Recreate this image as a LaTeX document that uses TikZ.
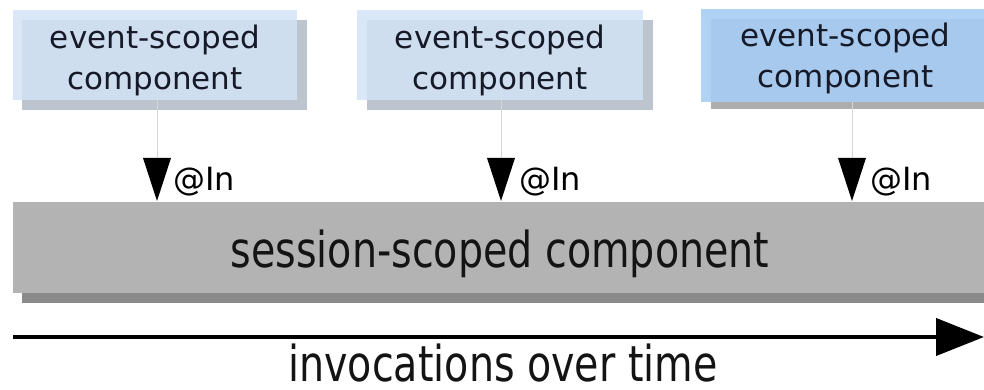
\documentclass[tikz,border=0pt]{standalone}
\usepackage{fontspec}
\usepackage{graphicx}
\setmainfont{DejaVu Sans}
\usetikzlibrary{arrows.meta}
\definecolor{evfill}{HTML}{D2E3F5}
\definecolor{evshadow}{HTML}{BCC5CE}
\definecolor{evfillhi}{HTML}{A6CDF4}
\definecolor{barfill}{HTML}{B3B3B3}
\definecolor{barshadow}{HTML}{8A8A8A}
\definecolor{conncol}{HTML}{D6D6D6}
\definecolor{txtcol}{HTML}{161A28}
\tikzset{
  evbox/.style={rectangle, inner sep=0pt, outer sep=0pt, minimum width=#1, minimum height=90pt},
  evtext/.style={align=center, inner sep=0pt, text=txtcol, font=\fontsize{31}{41}\selectfont},
  intext/.style={anchor=base west, inner sep=0pt, text=black, font=\fontsize{32}{38}\selectfont},
  bigtext/.style={anchor=base, inner sep=0pt, text=black!92, font=\fontsize{49.5}{56}\selectfont},
  conn/.style={draw=conncol, line width=1pt},
  tri/.style={fill=black},
  timearrow/.style={line width=4pt, -{Triangle[length=48pt,width=37pt]}}
}
\begin{document}
\begin{tikzpicture}[x=1pt,y=-1pt]
\useasboundingbox (0,0) rectangle (984,390);
\clip (0,0) rectangle (984,390);
% event-scoped boxes: shadows then boxes
\node[evbox=285pt, fill=evshadow] (s1) at (164.5,65) {};
\node[evbox=284pt, fill=evfill, fill opacity=0.85] (b1) at (155,55) {};
\node[evbox=286pt, fill=evshadow] (s2) at (509.5,65) {};
\node[evbox=286pt, fill=evfill, fill opacity=0.85] (b2) at (500,55) {};
\node[evbox=290pt, fill=barshadow!70] (s3) at (855.5,64) {};
\node[evbox=290pt, minimum height=93pt, fill=evfillhi, fill opacity=0.9] (b3) at (845.5,55.5) {};
\node[evtext] (t1) at ([yshift=-5.5pt]b1.center) {event-scoped\\component};
\node[evtext] (t2) at ([yshift=-5.5pt]b2.center) {event-scoped\\component};
\node[evtext] (t3) at ([yshift=-3pt]b3.center) {event-scoped\\component};
% session bar
\node[rectangle, inner sep=0pt, minimum width=980pt, minimum height=91pt, fill=barshadow] (sbs) at (512,257.5) {};
\node[rectangle, inner sep=0pt, minimum width=988pt, minimum height=91pt, fill=barfill] (sb) at (507,247.5) {};
\node[bigtext] (st) at (500,267) {\scalebox{0.8}[1]{session-scoped component}};
% connectors and triangles
\coordinate (p1) at (157,158);
\coordinate (p2) at (501,158);
\coordinate (p3) at (852,158);
\draw[conn] (b1.south -| p1) -- (p1);
\draw[conn] (b2.south -| p2) -- (p2);
\draw[conn] (b3.south -| p3) -- (p3);
\fill[tri] ([xshift=-14pt]p1) -- ([xshift=14pt]p1) -- ([yshift=-43pt]p1) -- cycle;
\fill[tri] ([xshift=-14pt]p2) -- ([xshift=14pt]p2) -- ([yshift=-43pt]p2) -- cycle;
\fill[tri] ([xshift=-14pt]p3) -- ([xshift=14pt]p3) -- ([yshift=-43pt]p3) -- cycle;
\node[intext] (i1) at ([xshift=16pt]p1 |- 0,190) {@In};
\node[intext] (i2) at ([xshift=18pt]p2 |- 0,190) {@In};
\node[intext] (i3) at ([xshift=18pt]p3 |- 0,190) {@In};
% time arrow
\coordinate (ts) at (13,337);
\coordinate (te) at (984,337);
\draw[timearrow] (ts) -- (te);
\node[bigtext] (tt) at (503,381.5) {\scalebox{0.8}[1]{invocations over time}};
\end{tikzpicture}
\end{document}
